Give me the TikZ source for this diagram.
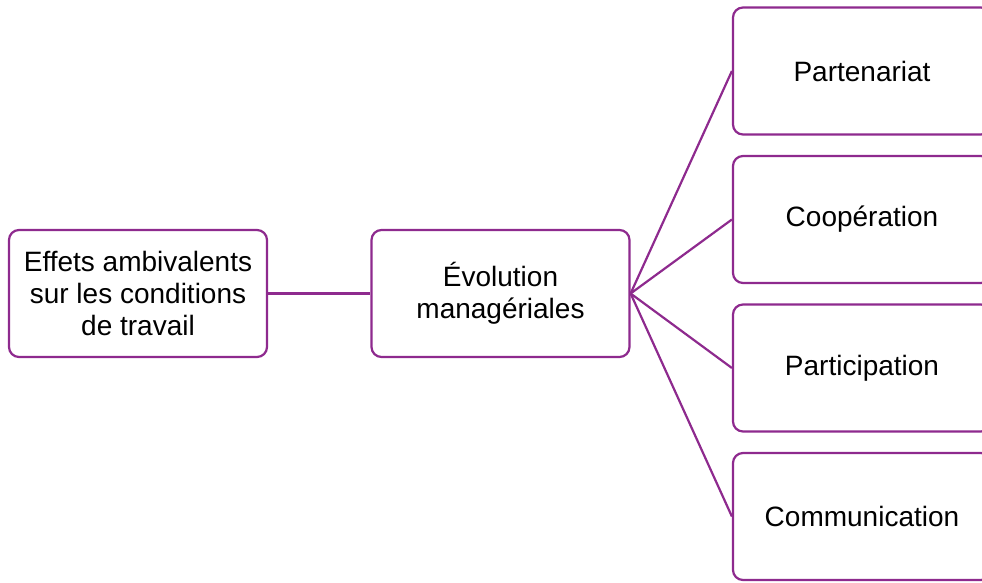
\documentclass[tikz,border=0pt]{standalone}
\usepackage{fontspec}
\setmainfont{Liberation Sans}
\definecolor{mauve}{HTML}{8E2A8E}
\begin{document}
\begin{tikzpicture}[x=1pt,y=-1pt,line width=2.2pt]
	\clip (0,0) rectangle (982,583);
	\begin{scope}[every node/.style={rectangle,rounded corners=10pt,draw=mauve,
		fill=white,align=center,font=\fontsize{28}{32}\selectfont,
		minimum width=258pt,minimum height=127pt,inner sep=0pt}]
	\node (effets) at (138,293.5) {Effets ambivalents\\sur les conditions\\de travail};
	\node (evol) at (500.5,293.5) {\'Evolution\\manag\'eriales};
	\node (part) at (862,71) {Partenariat};
	\node (coop) at (862,219.5) {Coop\'eration};
	\node (parti) at (862,368) {Participation};
	\node (comm) at (862,516.5) {Communication};
	\end{scope}
	
	\path[draw=mauve] (effets) -- (evol);
	\path[draw=mauve] (evol.east) -- (part.west);
	\path[draw=mauve] (evol.east) -- (coop.west);
	\path[draw=mauve] (evol.east) -- (parti.west);
	\path[draw=mauve] (evol.east) -- (comm.west);
\end{tikzpicture}
\end{document}
